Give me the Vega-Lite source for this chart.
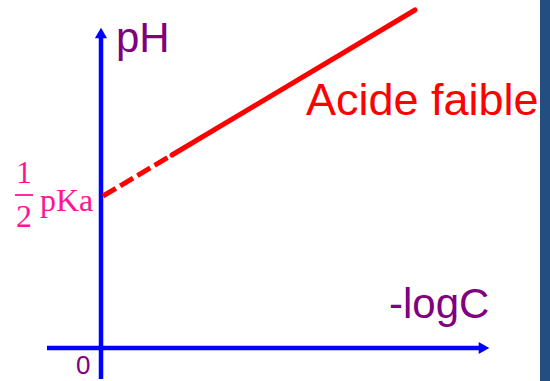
{
  "$schema": "https://vega.github.io/schema/vega-lite/v6.json",
  "width": 550,
  "height": 381,
  "autosize": "none",
  "padding": 0,
  "background": "white",
  "config": {"view": {"stroke": null}},
  "datasets": {
    "axes": [
      {"axis": "logC", "x": -54, "y": 0},
      {"axis": "logC", "x": 380, "y": 0},
      {"axis": "pH", "x": 0, "y": -31},
      {"axis": "pH", "x": 0, "y": 313}
    ],
    "arrows": [
      {"axis": "logC", "x": 383, "y": 0, "dir": "right"},
      {"axis": "pH", "x": 0, "y": 315, "dir": "up"}
    ],
    "curve": [
      {"part": "extrapolated", "x": 2, "y": 152},
      {"part": "extrapolated", "x": 71, "y": 193},
      {"part": "measured", "x": 71, "y": 193},
      {"part": "measured", "x": 314, "y": 338}
    ],
    "frame": [{"x": 439, "x2": 449, "y": -33, "y2": 348}],
    "bar": [{"x": -86, "y": 153}, {"x": -68, "y": 153}]
  },
  "layer": [
    {
      "data": {"name": "frame"},
      "mark": {"type": "rect", "color": "#234e82"},
      "encoding": {
        "x": {"field": "x", "type": "quantitative", "axis": null, "scale": {"domain": [-101, 449], "nice": false, "zero": false}},
        "x2": {"field": "x2"},
        "y": {"field": "y", "type": "quantitative", "axis": null, "scale": {"domain": [-33, 348], "nice": false, "zero": false}},
        "y2": {"field": "y2"}
      }
    },
    {
      "data": {"name": "axes"},
      "mark": {"type": "line", "color": "#0000ff", "strokeWidth": 4.5},
      "encoding": {
        "x": {"field": "x", "type": "quantitative", "axis": null, "scale": {"domain": [-101, 449], "nice": false, "zero": false}},
        "y": {"field": "y", "type": "quantitative", "axis": null, "scale": {"domain": [-33, 348], "nice": false, "zero": false}},
        "detail": {"field": "axis"}
      }
    },
    {
      "data": {"name": "arrows"},
      "transform": [{"filter": "datum.dir === 'right'"}],
      "mark": {"type": "point", "shape": "triangle-right", "filled": true, "color": "#0000ff", "size": 150, "opacity": 1},
      "encoding": {
        "x": {"field": "x", "type": "quantitative", "axis": null, "scale": {"domain": [-101, 449], "nice": false, "zero": false}},
        "y": {"field": "y", "type": "quantitative", "axis": null, "scale": {"domain": [-33, 348], "nice": false, "zero": false}}
      }
    },
    {
      "data": {"name": "arrows"},
      "transform": [{"filter": "datum.dir === 'up'"}],
      "mark": {"type": "point", "shape": "triangle-up", "filled": true, "color": "#0000ff", "size": 150, "opacity": 1},
      "encoding": {
        "x": {"field": "x", "type": "quantitative", "axis": null, "scale": {"domain": [-101, 449], "nice": false, "zero": false}},
        "y": {"field": "y", "type": "quantitative", "axis": null, "scale": {"domain": [-33, 348], "nice": false, "zero": false}}
      }
    },
    {
      "data": {"name": "curve"},
      "transform": [{"filter": "datum.part === 'extrapolated'"}],
      "mark": {"type": "line", "color": "#ff0000", "strokeWidth": 5, "strokeDash": [15, 5]},
      "encoding": {
        "x": {"field": "x", "type": "quantitative", "axis": null, "scale": {"domain": [-101, 449], "nice": false, "zero": false}},
        "y": {"field": "y", "type": "quantitative", "axis": null, "scale": {"domain": [-33, 348], "nice": false, "zero": false}}
      }
    },
    {
      "data": {"name": "curve"},
      "transform": [{"filter": "datum.part === 'measured'"}],
      "mark": {"type": "line", "color": "#ff0000", "strokeWidth": 5, "strokeCap": "round"},
      "encoding": {
        "x": {"field": "x", "type": "quantitative", "axis": null, "scale": {"domain": [-101, 449], "nice": false, "zero": false}},
        "y": {"field": "y", "type": "quantitative", "axis": null, "scale": {"domain": [-33, 348], "nice": false, "zero": false}}
      }
    },
    {
      "data": {"name": "bar"},
      "mark": {"type": "line", "color": "#ff1493", "strokeWidth": 1.8},
      "encoding": {
        "x": {"field": "x", "type": "quantitative", "axis": null, "scale": {"domain": [-101, 449], "nice": false, "zero": false}},
        "y": {"field": "y", "type": "quantitative", "axis": null, "scale": {"domain": [-33, 348], "nice": false, "zero": false}}
      }
    },
    {
      "data": {"values": [{"label": "pH", "x": 15, "y": 296}]},
      "mark": {"type": "text", "font": "Liberation Sans", "fontSize": 42, "color": "#800080", "align": "left", "baseline": "alphabetic"},
      "encoding": {
        "x": {"field": "x", "type": "quantitative", "axis": null, "scale": {"domain": [-101, 449], "nice": false, "zero": false}},
        "y": {"field": "y", "type": "quantitative", "axis": null, "scale": {"domain": [-33, 348], "nice": false, "zero": false}},
        "text": {"field": "label"}
      }
    },
    {
      "data": {"values": [{"label": "-logC", "x": 288, "y": 30}]},
      "mark": {"type": "text", "font": "Liberation Sans", "fontSize": 42, "color": "#800080", "align": "left", "baseline": "alphabetic"},
      "encoding": {
        "x": {"field": "x", "type": "quantitative", "axis": null, "scale": {"domain": [-101, 449], "nice": false, "zero": false}},
        "y": {"field": "y", "type": "quantitative", "axis": null, "scale": {"domain": [-33, 348], "nice": false, "zero": false}},
        "text": {"field": "label"}
      }
    },
    {
      "data": {"values": [{"label": "0", "x": -25, "y": -26}]},
      "mark": {"type": "text", "font": "Liberation Sans", "fontSize": 26, "color": "#800080", "align": "left", "baseline": "alphabetic"},
      "encoding": {
        "x": {"field": "x", "type": "quantitative", "axis": null, "scale": {"domain": [-101, 449], "nice": false, "zero": false}},
        "y": {"field": "y", "type": "quantitative", "axis": null, "scale": {"domain": [-33, 348], "nice": false, "zero": false}},
        "text": {"field": "label"}
      }
    },
    {
      "data": {"values": [{"label": "Acide faible", "x": 205, "y": 233}]},
      "mark": {"type": "text", "font": "Liberation Sans", "fontSize": 45, "color": "#ff0000", "align": "left", "baseline": "alphabetic"},
      "encoding": {
        "x": {"field": "x", "type": "quantitative", "axis": null, "scale": {"domain": [-101, 449], "nice": false, "zero": false}},
        "y": {"field": "y", "type": "quantitative", "axis": null, "scale": {"domain": [-33, 348], "nice": false, "zero": false}},
        "text": {"field": "label"}
      }
    },
    {
      "data": {"values": [{"label": "1", "x": -77, "y": 165}, {"label": "2", "x": -77, "y": 121}]},
      "mark": {"type": "text", "font": "Liberation Serif", "fontSize": 32, "color": "#ff1493", "align": "center", "baseline": "alphabetic"},
      "encoding": {
        "x": {"field": "x", "type": "quantitative", "axis": null, "scale": {"domain": [-101, 449], "nice": false, "zero": false}},
        "y": {"field": "y", "type": "quantitative", "axis": null, "scale": {"domain": [-33, 348], "nice": false, "zero": false}},
        "text": {"field": "label"}
      }
    },
    {
      "data": {"values": [{"label": "pKa", "x": -61, "y": 137}]},
      "mark": {"type": "text", "font": "Liberation Serif", "fontSize": 32, "color": "#ff1493", "align": "left", "baseline": "alphabetic"},
      "encoding": {
        "x": {"field": "x", "type": "quantitative", "axis": null, "scale": {"domain": [-101, 449], "nice": false, "zero": false}},
        "y": {"field": "y", "type": "quantitative", "axis": null, "scale": {"domain": [-33, 348], "nice": false, "zero": false}},
        "text": {"field": "label"}
      }
    }
  ]
}
